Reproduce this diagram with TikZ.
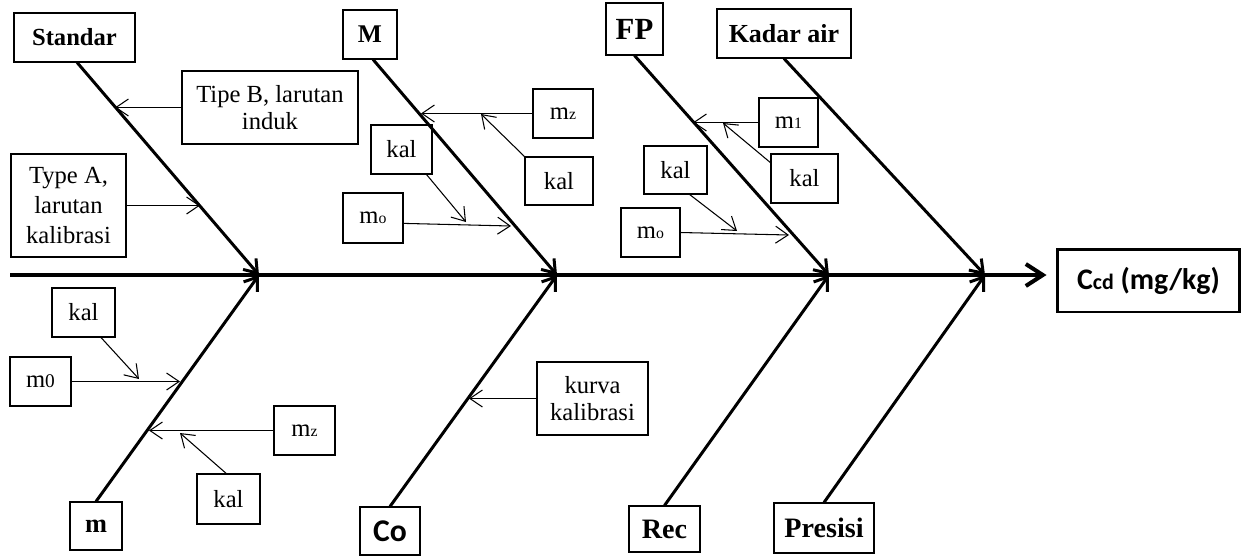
\documentclass[tikz,border=0pt]{standalone}
\usepackage{fontspec}
\setmainfont{Liberation Serif}
\newfontfamily\carlito{Carlito}
\usetikzlibrary{arrows.meta}

\begin{document}
\begin{tikzpicture}[x=0.02cm, y=-0.02cm,
	kotak/.style={draw,line width=0.6pt,inner sep=0pt,align=center,
		font=\fontsize{14}{15}\selectfont},
	judul/.style={kotak,font=\bfseries\fontsize{14.5}{15}\selectfont},
	tulang/.style={line width=1.7pt,-{Straight Barb[length=2.4mm,width=3.4mm]}},
	panah/.style={line width=0.6pt,-{Straight Barb[length=2.5mm,width=3.4mm]}}]
	\useasboundingbox (0,0) rectangle (1242,556);
	% kepala dan tulang utama
	\node[draw,line width=1.7pt,minimum width=3.66cm,minimum height=1.26cm,
		font=\carlito\bfseries\fontsize{17}{18}\selectfont] (ccd) at (1148.5,280.5)
		{C{\fontsize{12.5}{13}\selectfont cd} (mg/kg)};
	\coordinate (awal) at (10,275);
	\coordinate (j1) at (259,275);
	\coordinate (j2) at (557,275);
	\coordinate (j3) at (829,275);
	\coordinate (j4) at (985,275);
	\draw[line width=2.3pt,-{Straight Barb[length=3.4mm,width=4.4mm]},shorten >=0.18cm]
		(awal) -- (awal -| ccd.west);
	% penyebab
	\node[judul,minimum width=2.42cm,minimum height=0.98cm,font=\bfseries\fontsize{14}{15}\selectfont] (standar) at (74.5,37.5) {Standar};
	\node[judul,minimum width=1.08cm,minimum height=0.98cm] (M) at (370,34.5) {M};
	\node[judul,minimum width=1.14cm,minimum height=1.04cm,font=\bfseries\fontsize{17.5}{18}\selectfont] (fp) at (634.5,29) {FP};
	\node[judul,minimum width=2.68cm,minimum height=0.98cm,font=\bfseries\fontsize{14.8}{15}\selectfont] (kadar) at (784,33.5) {Kadar air};
	\node[judul,minimum width=1.04cm,minimum height=0.96cm,font=\bfseries\fontsize{15}{16}\selectfont] (m) at (96,526) {m};
	\node[judul,minimum width=1.2cm,minimum height=0.96cm,font=\carlito\bfseries\fontsize{18}{19}\selectfont] (co) at (390,531) {Co};
	\node[judul,minimum width=1.42cm,minimum height=0.92cm,font=\bfseries\fontsize{16}{17}\selectfont] (rec) at (664.5,529) {Rec};
	\node[judul,minimum width=2.0cm,minimum height=1.0cm,font=\bfseries\fontsize{16}{17}\selectfont] (presisi) at (824,528) {Presisi};
	\draw[tulang] (standar.-84) -- (j1);
	\draw[tulang] (M.-83) -- (j2);
	\draw[tulang] (fp.south) -- (j3);
	\draw[tulang] (kadar.south) -- (j4);
	\draw[tulang] (m.north) -- (j1);
	\draw[tulang] (co.north) -- (j2);
	\draw[tulang] (rec.north) -- (j3);
	\draw[tulang] (presisi.north) -- (j4);
	% sub penyebab
	\node[kotak,minimum width=3.52cm,minimum height=1.46cm] (tipeB) at (270,107.5) {Tipe B, larutan\\induk};
	\node[kotak,minimum width=2.3cm,minimum height=2.06cm,font=\fontsize{14}{17}\selectfont] (typeA) at (68.5,205.5) {Type A,\\larutan\\kalibrasi};
	\node[kotak,minimum width=1.2cm,minimum height=0.98cm] (Mmz) at (563,113.5) {m{\fontsize{9}{10}\selectfont z}};
	\node[kotak,minimum width=1.36cm,minimum height=0.96cm] (MkalR) at (559,181) {kal};
	\node[kotak,minimum width=1.22cm,minimum height=0.98cm] (MkalL) at (401.5,149.5) {kal};
	\node[kotak,minimum width=1.2cm,minimum height=1.0cm] (Mmo) at (373,218) {m{\fontsize{9}{10}\selectfont o}};
	\node[kotak,minimum width=1.18cm,minimum height=0.98cm] (fpm1) at (788.5,122.5) {m{\fontsize{9}{10}\selectfont 1}};
	\node[kotak,minimum width=1.34cm,minimum height=0.98cm] (fpkalR) at (804.5,178.5) {kal};
	\node[kotak,minimum width=1.26cm,minimum height=0.96cm] (fpkalL) at (675.5,170) {kal};
	\node[kotak,minimum width=1.18cm,minimum height=0.98cm] (fpmo) at (650.5,232.5) {m{\fontsize{9}{10}\selectfont o}};
	\node[kotak,minimum width=1.26cm,minimum height=0.98cm] (mkalT) at (83.5,312.5) {kal};
	\node[kotak,minimum width=1.22cm,minimum height=0.98cm] (mm0) at (40.5,381.5) {m{\fontsize{11}{12}\selectfont 0}};
	\node[kotak,minimum width=1.22cm,minimum height=0.98cm] (mmz) at (304.5,430.5) {m{\fontsize{9}{10}\selectfont z}};
	\node[kotak,minimum width=1.26cm,minimum height=1.0cm] (mkalB) at (228.5,499) {kal};
	\node[kotak,minimum width=2.22cm,minimum height=1.46cm] (kurva) at (592.5,398.5) {kurva\\kalibrasi};
	\coordinate (a1) at (115,107.5);
	\coordinate (a2) at (200,205.5);
	\coordinate (a3) at (421,113.5);
	\coordinate (a4) at (481,114);
	\coordinate (a5) at (466,222);
	\coordinate (a6) at (511,226);
	\coordinate (a7) at (693,122.5);
	\coordinate (a8) at (723,123);
	\coordinate (a9) at (737,231);
	\coordinate (a10) at (789,235);
	\coordinate (a11) at (139,379);
	\coordinate (a12) at (180,381.5);
	\coordinate (a13) at (149,430.5);
	\coordinate (a14) at (180,433);
	\coordinate (a15) at (469,398.5);
	\draw[panah] (tipeB.west) -- (a1);
	\draw[panah] (typeA.east) -- (a2);
	\draw[panah] (Mmz.west) -- (a3);
	\draw[panah] (MkalR.north west) -- (a4);
	\draw[panah] (MkalL.-45) -- (a5);
	\draw[panah] (Mmo.-10) -- (a6);
	\draw[panah] (fpm1.west) -- (a7);
	\draw[panah] (fpkalR.155) -- (a8);
	\draw[panah] (fpkalL.-60) -- (a9);
	\draw[panah] (fpmo.east) -- (a10);
	\draw[panah] (mkalT.-55) -- (a11);
	\draw[panah] (mm0.east) -- (a12);
	\draw[panah] (mmz.west) -- (a13);
	\draw[panah] (mkalB.95) -- (a14);
	\draw[panah] (kurva.west) -- (a15);
\end{tikzpicture}
\end{document}
